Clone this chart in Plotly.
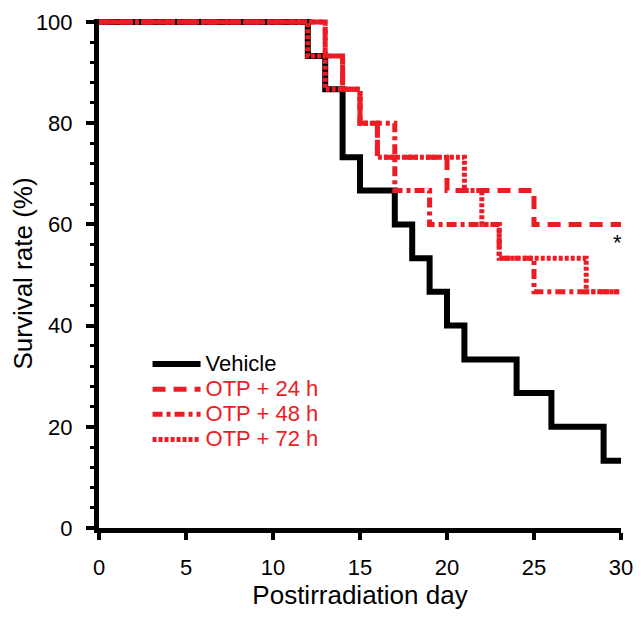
import plotly.graph_objects as go

# --- datos (Kaplan-Meier, dias / %) ---
vehicle_day = [0, 12, 13, 14, 15, 17, 18, 19, 20, 21, 24, 26, 29, 30]
vehicle_surv = [100, 93.3, 86.7, 73.3, 66.7, 60, 53.3, 46.7, 40, 33.3, 26.7, 20, 13.3, 13.3]

otp24_day = [0, 13, 14, 15, 16, 20, 25, 30]
otp24_surv = [100, 93.3, 86.7, 80, 73.3, 66.7, 60, 60]

otp48_day = [0, 13, 14, 15, 17, 19, 23, 25, 30]
otp48_surv = [100, 93.3, 86.7, 80, 66.7, 60, 53.3, 46.7, 46.7]

otp72_day = [0, 12, 13, 15, 16, 21, 22, 23, 28, 30]
otp72_surv = [100, 93.3, 86.7, 80, 73.3, 66.7, 60, 53.3, 46.7, 46.7]

x_ticks = [0, 5, 10, 15, 20, 25, 30]
y_ticks = [0, 20, 40, 60, 80, 100]

RED = "#ED1C24"
FONT = "Liberation Sans, Arial, sans-serif"

fig = go.Figure()

series = [
    ("Vehicle", vehicle_day, vehicle_surv, "black", 6, "solid"),
    ("OTP + 24 h", otp24_day, otp24_surv, RED, 5, "13px,8px"),
    ("OTP + 48 h", otp48_day, otp48_surv, RED, 5, "10px,4px,4px,4px"),
    ("OTP + 72 h", otp72_day, otp72_surv, RED, 5, "4px,2px"),
]

for name, xs, ys, color, width, dash in series:
    # texto de leyenda mas grande que la altura de fila (filas compactas)
    label = f"<span style='font-size:22px;color:{color}'>{name}</span>"
    fig.add_trace(go.Scatter(
        x=xs, y=ys,
        mode="lines",
        line=dict(color=color, width=width, dash=dash, shape="hv"),
        name=label,
    ))

# asterisco de significancia
fig.add_annotation(x=29.8, y=56.5, text="*", showarrow=False,
                   font=dict(size=22, color="black", family=FONT))

# la pagina tiene 8px de margen en body: margenes compensados
fig.update_layout(
    width=641, height=617,
    margin=dict(l=91, r=28, t=11, b=97),
    plot_bgcolor="white", paper_bgcolor="white",
    font=dict(family=FONT, size=22, color="black"),
    showlegend=True,
    legend=dict(
        x=0.093, y=0.3565, xanchor="left", yanchor="top",
        bgcolor="rgba(0,0,0,0)",
        font=dict(size=17, color="black", family=FONT),
        itemwidth=48,
        tracegroupgap=0,
    ),
    xaxis=dict(
        range=[0, 30],
        tickvals=x_ticks,
        automargin=False,
        showgrid=False, zeroline=False,
        showline=True, linecolor="black", linewidth=5,
        ticks="outside", ticklen=7, tickwidth=4, tickcolor="black",
        tickfont=dict(size=22),
        ticklabelstandoff=9,
        title=dict(text="Postirradiation day", font=dict(size=26), standoff=8),
    ),
    yaxis=dict(
        range=[0, 100.6],
        tickvals=y_ticks,
        automargin=False,
        showgrid=False, zeroline=False,
        showline=True, linecolor="black", linewidth=5,
        ticks="outside", ticklen=8, tickwidth=4, tickcolor="black",
        tickfont=dict(size=22),
        ticklabelstandoff=9,
        minor=dict(dtick=4, ticks="outside", ticklen=4, tickwidth=3, tickcolor="black"),
        title=dict(text="Survival rate (%)", font=dict(size=26), standoff=7),
    ),
)

fig.write_html("out.html")
